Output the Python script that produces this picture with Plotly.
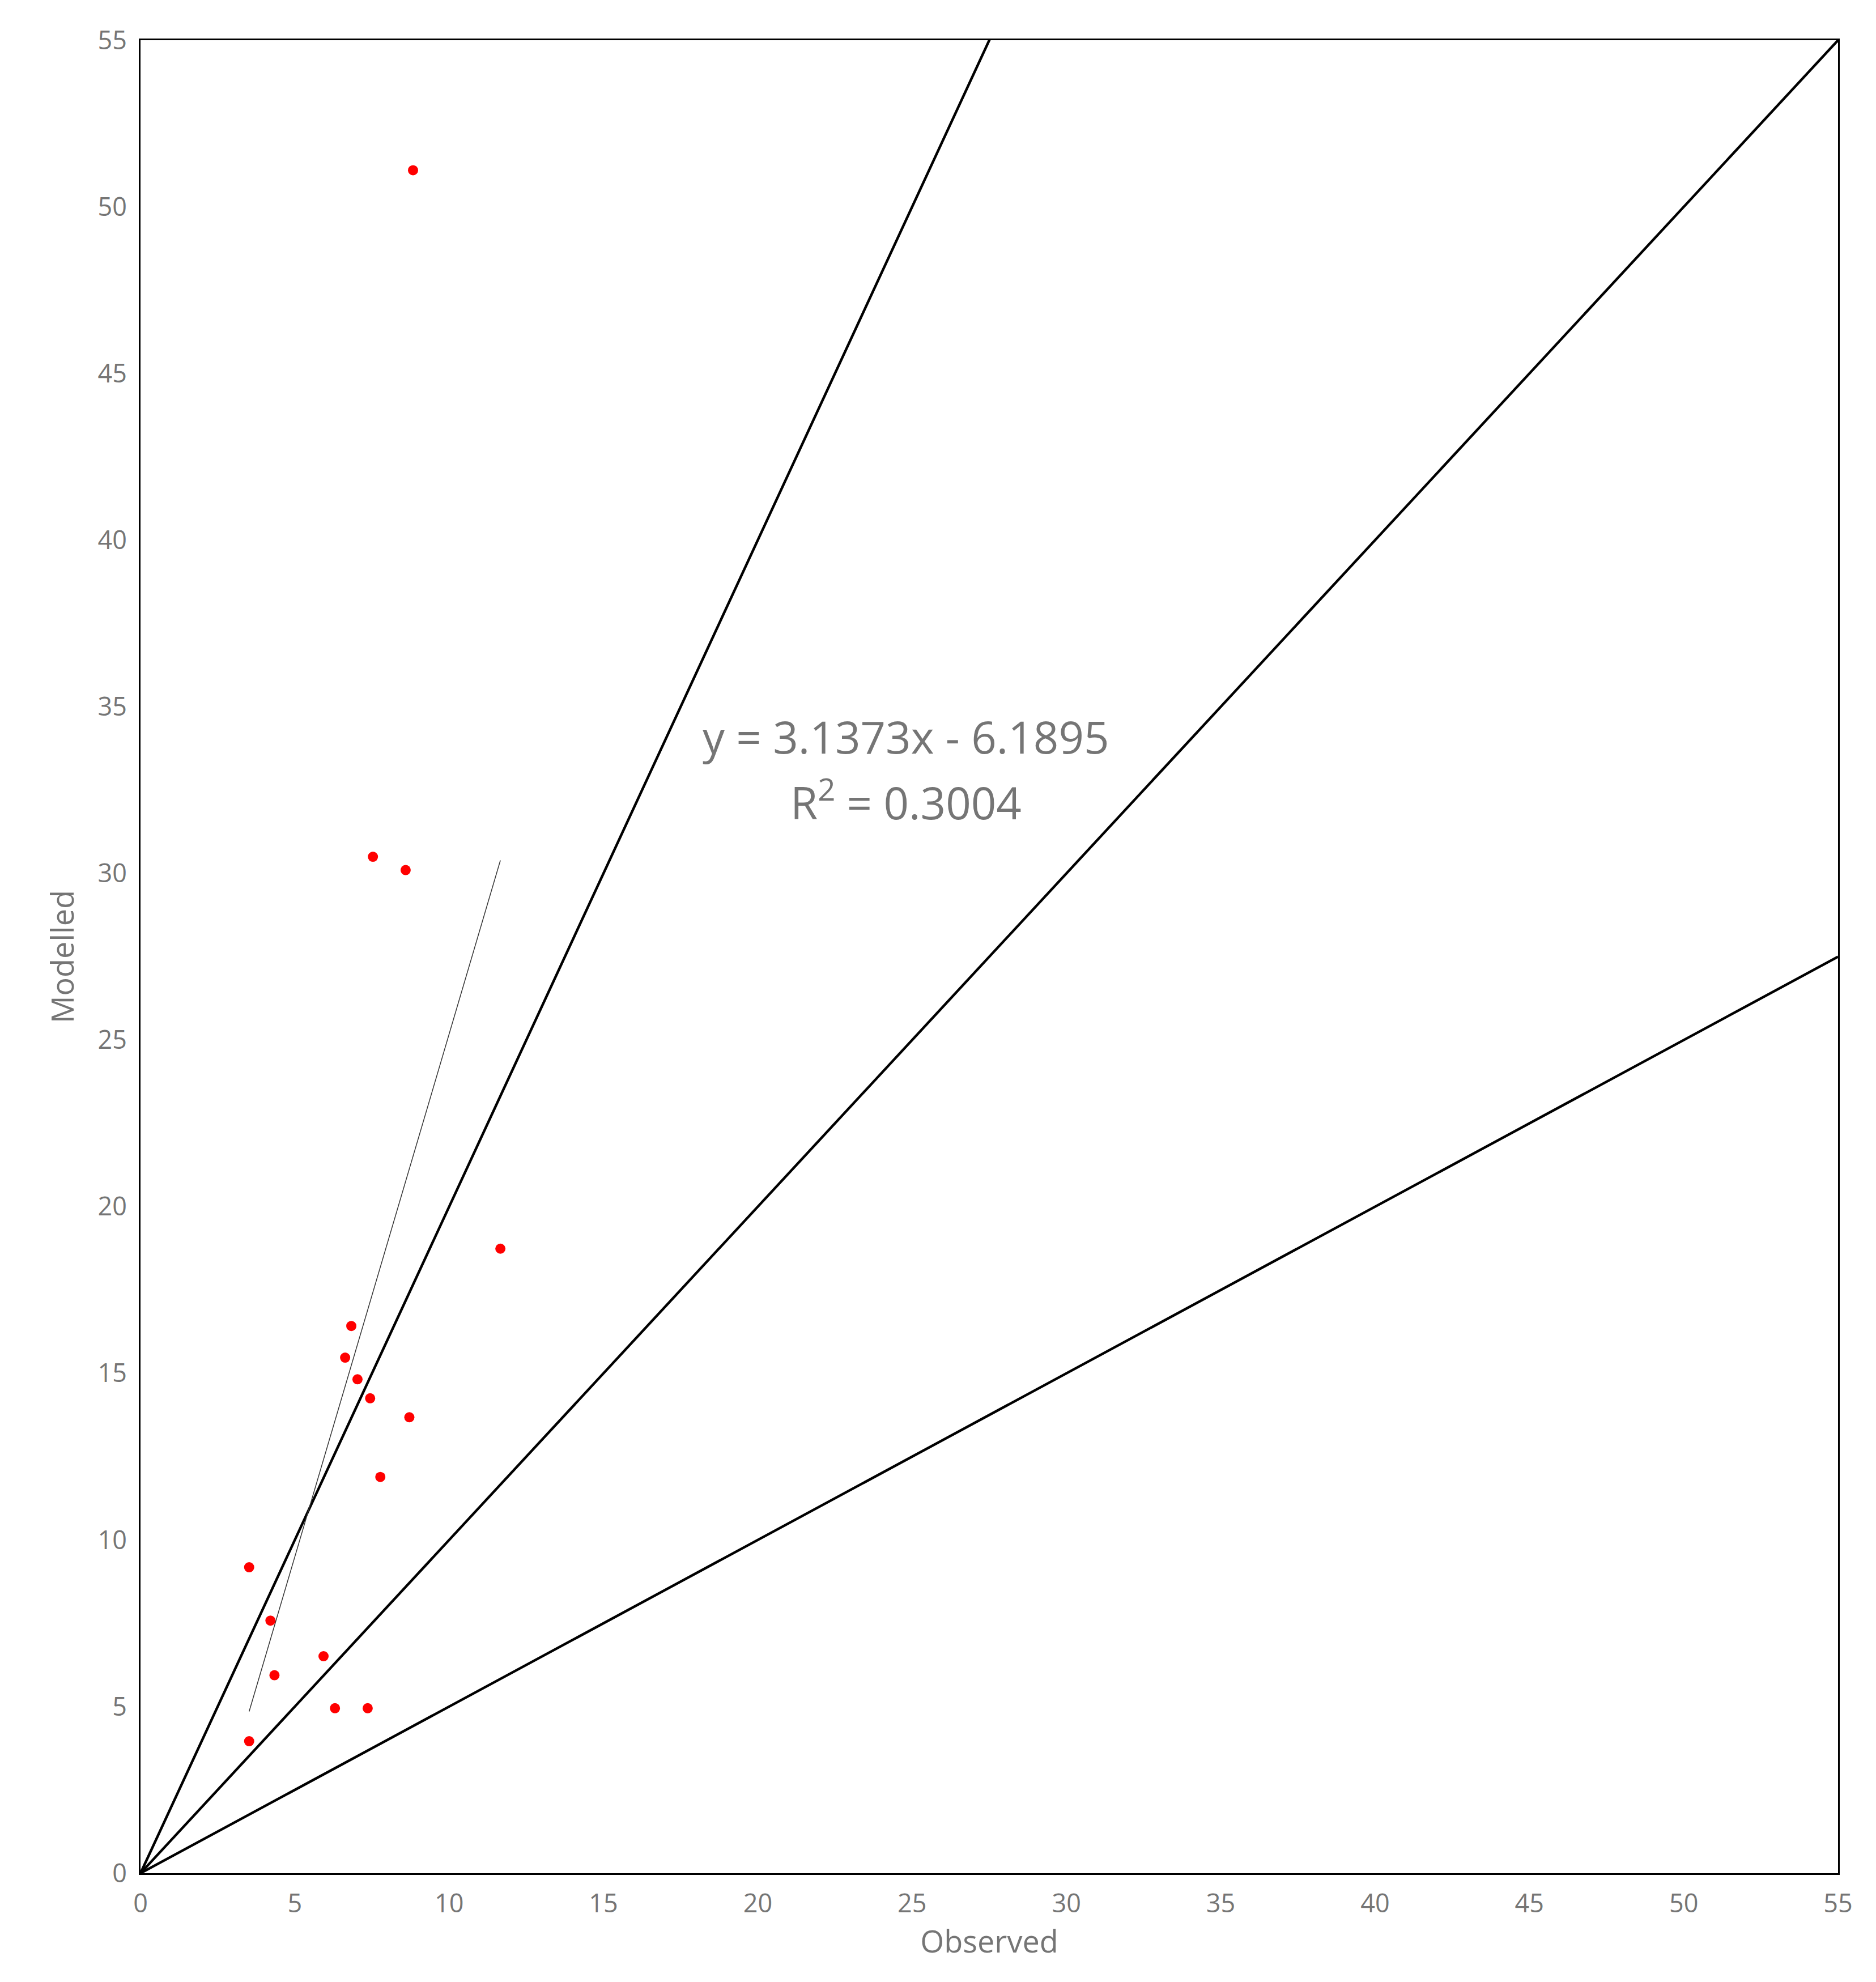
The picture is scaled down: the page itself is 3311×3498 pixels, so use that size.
import plotly.graph_objects as go

observed = [8.83, 7.53, 8.59, 11.66, 6.83, 6.63, 7.03, 7.44, 8.71, 7.77, 3.52, 4.21, 5.93, 4.34, 6.30, 7.36, 3.52]
modelled = [51.1, 30.5, 30.1, 18.74, 16.42, 15.47, 14.82, 14.25, 13.68, 11.89, 9.18, 7.58, 6.51, 5.94, 4.95, 4.95, 3.96]
ref_x = [0, 55]
ratios = [2.0, 1.0, 0.5]
slope, intercept = 3.1373, -6.1895
trend_x = [min(observed), max(observed)]

fig = go.Figure()
for r in ratios:
    fig.add_trace(go.Scatter(x=ref_x, y=[v * r for v in ref_x], mode="lines",
                             line=dict(color="black", width=4.5), showlegend=False))
fig.add_trace(go.Scatter(x=trend_x, y=[slope * v + intercept for v in trend_x], mode="lines",
                         line=dict(color="#333333", width=1.5), showlegend=False))
fig.add_trace(go.Scatter(x=observed, y=modelled, mode="markers",
                         marker=dict(color="red", size=18), showlegend=False))

fig.add_annotation(x=24.8, y=34.1, xref="x", yref="y", showarrow=False,
                   text="y = 3.1373x - 6.1895",
                   font=dict(size=78, color="#757575", family="Open Sans"))
fig.add_annotation(x=24.8, y=32.2, xref="x", yref="y", showarrow=False,
                   text="R<sup>2</sup> = 0.3004",
                   font=dict(size=78, color="#757575", family="Open Sans"))

axis_common = dict(range=[0, 55], dtick=5, showgrid=False, zeroline=False,
                   showline=True, mirror=True, linecolor="black", linewidth=3,
                   ticks="", ticklabelstandoff=12, tickfont=dict(size=45, color="#757575"))
fig.update_layout(
    width=3311, height=3498,
    margin=dict(l=240, r=75, t=63, b=200),
    plot_bgcolor="white", paper_bgcolor="white",
    font=dict(family="Open Sans", color="#757575"),
    xaxis=dict(title=dict(text="Observed", font=dict(size=54, color="#757575"), standoff=15), **axis_common),
    yaxis=dict(title=dict(text="Modelled", font=dict(size=54, color="#757575"), standoff=25), **axis_common),
)
fig.write_html("out.html")
